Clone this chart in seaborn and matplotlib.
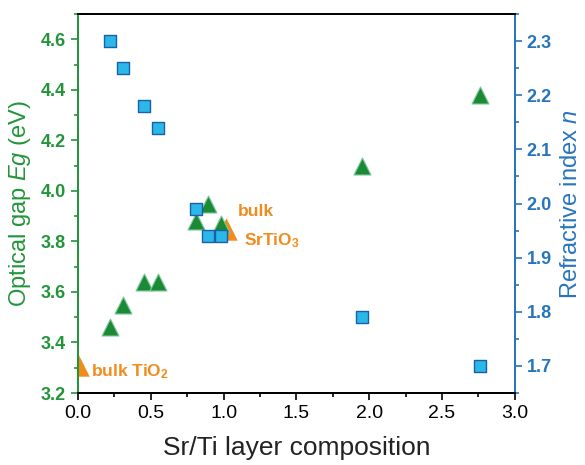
import matplotlib
matplotlib.use("Agg")
import matplotlib.pyplot as plt
import seaborn as sns
import pandas as pd
from matplotlib.ticker import MultipleLocator

sns.set_style("ticks")
plt.rcParams['font.family'] = ['Arial', 'Liberation Sans', 'DejaVu Sans']
plt.rcParams['mathtext.fontset'] = 'custom'
plt.rcParams['mathtext.it'] = 'Liberation Sans:italic'
plt.rcParams['mathtext.rm'] = 'Liberation Sans'
plt.rcParams['mathtext.bf'] = 'Liberation Sans:bold'

# Optical gap (left axis)
eg_x = [0.22, 0.31, 0.45, 0.55, 0.81, 0.89, 0.98, 1.95, 2.76]
eg_y = [3.46, 3.55, 3.64, 3.64, 3.88, 3.95, 3.87, 4.10, 4.38]
# Refractive index (right axis)
n_x = [0.22, 0.31, 0.45, 0.55, 0.81, 0.89, 0.98, 1.95, 2.76]
n_y = [2.30, 2.25, 2.18, 2.14, 1.99, 1.94, 1.94, 1.79, 1.70]
# Bulk references (left axis)
bulk_x = [0.0, 1.02]
bulk_y = [3.31, 3.85]

GREEN = "#22953a"
TRI = "#1b8a34"
BLUE = "#2775bd"
SQ = "#2bb8e8"
ORANGE = "#f08c1c"

fig = plt.figure(figsize=(5.85, 4.65), dpi=100)
ax = fig.add_axes([0.1333, 0.1548, 0.7467, 0.8151])
ax2 = ax.twinx()

df_eg = pd.DataFrame({"x": eg_x, "y": eg_y})
df_n = pd.DataFrame({"x": n_x, "y": n_y})
df_b = pd.DataFrame({"x": bulk_x, "y": bulk_y})

sns.scatterplot(data=df_b, x="x", y="y", ax=ax, marker="^", s=260,
                color=ORANGE, edgecolor=ORANGE, linewidth=0, zorder=2)
sns.scatterplot(data=df_eg, x="x", y="y", ax=ax, marker="^", s=150,
                color=TRI, edgecolor="#7fc8a0", linewidth=0.8, zorder=3)
sns.scatterplot(data=df_n, x="x", y="y", ax=ax2, marker="s", s=85,
                color=SQ, edgecolor="#1a5fa8", linewidth=1.0, zorder=4)

ax.set_xlim(0, 3.0)
ax.set_ylim(3.2, 4.7)
ax2.set_ylim(1.65, 2.35)

ax.xaxis.set_major_locator(MultipleLocator(0.5))
ax.xaxis.set_minor_locator(MultipleLocator(0.25))
ax.yaxis.set_minor_locator(MultipleLocator(0.1))
ax2.yaxis.set_minor_locator(MultipleLocator(0.05))
ax.set_yticks([3.2, 3.4, 3.6, 3.8, 4.0, 4.2, 4.4, 4.6])
ax2.set_yticks([1.7, 1.8, 1.9, 2.0, 2.1, 2.2, 2.3])

# bottom ticks outward, top ticks inward (via twin axis sharing x)
ax.tick_params(axis="x", which="both", bottom=True, top=False, direction="out",
               colors="black", labelsize=14, length=5, width=1.2)
ax.tick_params(axis="x", which="minor", length=3)
ax2.tick_params(axis="x", which="both", bottom=False, top=True, labelbottom=False,
                labeltop=False, direction="in", length=5, width=1.2, colors="black")
ax2.tick_params(axis="x", which="minor", length=3)
ax.tick_params(axis="y", which="major", colors=GREEN, labelsize=13, length=5, width=1.2)
ax.tick_params(axis="y", which="minor", colors=GREEN, length=3, width=1.2)
ax2.tick_params(axis="y", which="major", colors=BLUE, labelsize=13, length=5, width=1.2)
ax2.tick_params(axis="y", which="minor", colors=BLUE, length=3, width=1.2)
for lab in ax.get_yticklabels():
    lab.set_fontweight("bold")
for lab in ax2.get_yticklabels():
    lab.set_fontweight("bold")

for a in (ax, ax2):
    a.spines["top"].set_visible(True)
    a.spines["right"].set_visible(True)
    a.spines["top"].set_color("black")
    a.spines["bottom"].set_color("black")
    a.spines["left"].set_color(GREEN)
    a.spines["right"].set_color(BLUE)
    for s in a.spines.values():
        s.set_linewidth(1.3)

ax.set_xlabel("Sr/Ti layer composition", fontsize=19, color="#222222", labelpad=10)
ax.set_ylabel("Optical gap $Eg$ (eV)", fontsize=17, color=GREEN, labelpad=6)
ax2.set_ylabel("Refractive index $n$", fontsize=17, color=BLUE, labelpad=6)

ax.text(1.10, 3.90, "bulk", color=ORANGE, fontsize=12.5, fontweight="bold")
ax.text(1.14, 3.785, "SrTiO$_\\mathbf{3}$", color=ORANGE, fontsize=12.5, fontweight="bold")
ax.text(0.09, 3.265, "bulk TiO$_\\mathbf{2}$", color=ORANGE, fontsize=12.5, fontweight="bold")

ax.set_zorder(1)
ax2.set_zorder(2)
ax.patch.set_visible(True)
ax.patch.set_facecolor("white")
ax2.patch.set_visible(False)

fig.savefig("out.png", dpi=100)
